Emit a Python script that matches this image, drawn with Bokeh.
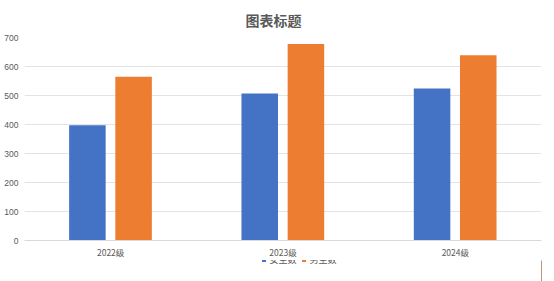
from bokeh.plotting import figure
from bokeh.layouts import column
from bokeh.models import FactorRange, Range1d, FixedTicker, Legend, LegendItem, ColumnDataSource
from bokeh.transform import dodge
from bokeh.embed import file_html
from bokeh.resources import INLINE

categories = ["2022级", "2023级", "2024级"]
girls = [397, 507, 524]
boys = [565, 678, 639]
y_ticks = [0, 100, 200, 300, 400, 500, 600, 700]
series_names = ["女生数", "男生数"]
series_colors = ["#4472C4", "#ED7D31"]
title_text = "图表标题"

FONT = "Noto Sans CJK SC"
GREY = "#595959"

src = ColumnDataSource(dict(cat=categories, girls=girls, boys=boys))

p = figure(frame_width=517, frame_height=203, x_range=FactorRange(*categories), y_range=Range1d(0, 700),
           output_backend="svg", toolbar_location=None,
           min_border_left=24, min_border_right=13, min_border_top=37, min_border_bottom=20)

p.title.text = title_text
p.title.align = "left"
p.title.offset = 221
p.title.standoff = 15
p.title.text_font = FONT
p.title.text_font_size = "14px"
p.title.text_font_style = "bold"
p.title.text_color = GREY

p.vbar(x=dodge("cat", -0.135, range=p.x_range), top="girls", width=0.212, source=src,
       fill_color=series_colors[0], line_color=None)
p.vbar(x=dodge("cat", 0.133, range=p.x_range), top="boys", width=0.212, source=src,
       fill_color=series_colors[1], line_color=None)

p.outline_line_color = None
p.xgrid.grid_line_color = None
p.ygrid.grid_line_color = "#e3e3e3"
p.ygrid.grid_line_width = 1

p.yaxis.ticker = FixedTicker(ticks=y_ticks)
p.yaxis.axis_line_color = None
p.yaxis.major_tick_line_color = None
p.yaxis.minor_tick_line_color = None
p.yaxis.major_tick_out = 0
p.yaxis.major_tick_in = 0
p.yaxis.minor_tick_out = 0
p.yaxis.major_label_text_font = "Liberation Sans"
p.yaxis.major_label_text_font_size = "8.5px"
p.yaxis.major_label_text_color = GREY
p.yaxis.major_label_standoff = 6

p.xaxis.axis_line_color = "#d9d9d9"
p.xaxis.major_tick_line_color = None
p.xaxis.minor_tick_line_color = None
p.xaxis.major_tick_out = 0
p.xaxis.major_tick_in = 0
p.xaxis.minor_tick_out = 0
p.xaxis.major_label_text_font = FONT
p.xaxis.major_label_text_font_size = "8.5px"
p.xaxis.major_label_text_color = GREY
p.xaxis.major_label_standoff = 5

# legend strip below the chart (its bars lie outside its visible range)
lg = figure(width=554, height=21, x_range=Range1d(0, 1), y_range=Range1d(0, 1),
            output_backend="svg", toolbar_location=None,
            x_axis_location=None, y_axis_location=None,
            min_border_left=0, min_border_right=0, min_border_top=0, min_border_bottom=0)
lg.grid.visible = False
lg.outline_line_color = None
g1 = lg.vbar(x="girls", top="girls", width=0.1, source=src, fill_color=series_colors[0], line_color=None)
g2 = lg.vbar(x="boys", top="boys", width=0.1, source=src, fill_color=series_colors[1], line_color=None)

legend = Legend(items=[LegendItem(label=series_names[0], renderers=[g1]),
                       LegendItem(label=series_names[1], renderers=[g2])],
                orientation="horizontal", location=(236.5, 15))
legend.label_text_font = FONT
legend.label_text_font_size = "9px"
legend.label_text_color = GREY
legend.label_height = 12
legend.glyph_width = 5
legend.glyph_height = 5
legend.label_standoff = 4
legend.spacing = 4
legend.padding = 0
legend.margin = 0
legend.border_line_color = None
legend.background_fill_alpha = 0
lg.add_layout(legend)

layout = column(p, lg, spacing=0)
open("out.html", "w").write(file_html(layout, INLINE))
